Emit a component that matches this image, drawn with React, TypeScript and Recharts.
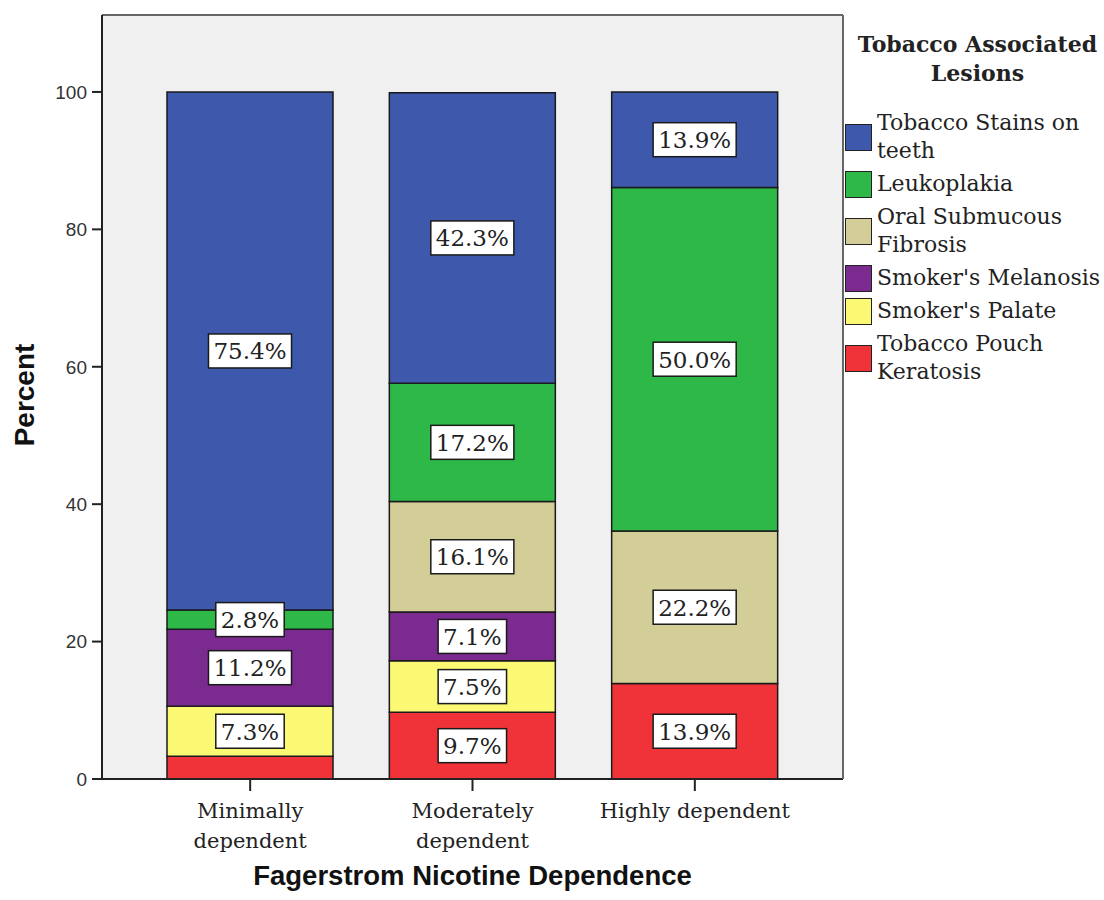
import React from 'react';
import { BarChart, Bar, XAxis, YAxis, CartesianGrid, Legend, LabelList } from 'recharts';

const categories = ['Minimally dependent', 'Moderately dependent', 'Highly dependent'];
const categoryLines = [['Minimally', 'dependent'], ['Moderately', 'dependent'], ['Highly dependent']];

// stacked bottom -> top
const tobaccoPouchKeratosis = [3.3, 9.7, 13.9];
const smokersPalate = [7.3, 7.5, 0];
const smokersMelanosis = [11.2, 7.1, 0];
const oralSubmucousFibrosis = [0, 16.1, 22.2];
const leukoplakia = [2.8, 17.2, 50.0];
const tobaccoStains = [75.4, 42.3, 13.9];

// whether a percentage box is printed on the segment
const pouchLabelShown = [false, true, true];

const yTicks = [0, 20, 40, 60, 80, 100];
const yMax = 111.2;

const legendTitle = ['Tobacco Associated', 'Lesions'];

const series = [
  { key: 'pouch', name: ['Tobacco Pouch', 'Keratosis'], color: '#EF3338', values: tobaccoPouchKeratosis, shown: pouchLabelShown },
  { key: 'palate', name: ["Smoker's Palate"], color: '#FBF873', values: smokersPalate, shown: [true, true, true] },
  { key: 'melanosis', name: ["Smoker's Melanosis"], color: '#7B2A90', values: smokersMelanosis, shown: [true, true, true] },
  { key: 'osmf', name: ['Oral Submucous', 'Fibrosis'], color: '#D3CE97', values: oralSubmucousFibrosis, shown: [true, true, true] },
  { key: 'leuko', name: ['Leukoplakia'], color: '#2EB848', values: leukoplakia, shown: [true, true, true] },
  { key: 'stains', name: ['Tobacco Stains on', 'teeth'], color: '#3E58AC', values: tobaccoStains, shown: [true, true, true] },
];

const data = categories.map((c, i) => {
  const row: any = { category: c };
  series.forEach((s) => { row[s.key] = s.values[i]; });
  return row;
});

const SERIF = '"DejaVu Serif", "Liberation Serif", serif';
const SANS = '"Liberation Sans", Arial, sans-serif';
const LABEL_FS = 23;

const charW = (ch: string) => {
  if (ch === '.') return 0.318;
  if (ch === '%') return 0.95;
  return 0.636;
};

const makeLabel = (values: number[], shown: boolean[]) => (props: any) => {
  const { x, y, width, height, value } = props;
  const v = Number(value);
  if (!v) return null;
  const idx = values.indexOf(v);
  if (idx >= 0 && !shown[idx]) return null;
  const text = v.toFixed(1) + '%';
  const tw = text.split('').reduce((a, ch) => a + charW(ch), 0) * LABEL_FS;
  const bw = tw + 10;
  const bh = 34;
  const cx = x + width / 2;
  const cy = y + height / 2;
  return (
    <g>
      <rect x={cx - bw / 2} y={cy - bh / 2} width={bw} height={bh} fill="#ffffff" stroke="#1a1a1a" strokeWidth={1.5} />
      <text x={cx} y={cy + 8.5} textAnchor="middle" fontFamily={SERIF} fontSize={LABEL_FS} fill="#222">
        {text}
      </text>
    </g>
  );
};

const XTick = (props: any) => {
  const { x, y, payload } = props;
  const idx = categories.indexOf(payload.value);
  const lines = idx >= 0 ? categoryLines[idx] : [payload.value];
  return (
    <g>
      {lines.map((l, i) => (
        <text key={i} x={x} y={y + 25 + i * 30} textAnchor="middle" fontFamily={SERIF} fontSize={21} fill="#222">
          {l}
        </text>
      ))}
    </g>
  );
};

const LegendContent = () => {
  const items = [...series].reverse();
  return (
    <div style={{ fontFamily: SERIF, color: '#222', textAlign: 'left' }}>
      <div style={{ fontWeight: 'bold', fontSize: 22, lineHeight: '29px', textAlign: 'center', paddingLeft: 6, marginBottom: 21, whiteSpace: 'nowrap' }}>
        {legendTitle.map((t, i) => (<div key={i}>{t}</div>))}
      </div>
      {items.map((s) => (
        <div key={s.key} style={{ display: 'flex', alignItems: 'center', marginBottom: 5 }}>
          <div style={{ width: 25, height: 25, background: s.color, border: '1.5px solid #222', flex: 'none', marginRight: 5 }} />
          <div style={{ fontSize: 22, lineHeight: '28px', whiteSpace: 'nowrap' }}>
            {s.name.map((n, i) => (<div key={i}>{n}</div>))}
          </div>
        </div>
      ))}
    </div>
  );
};

export default function App() {
  return (
    <div style={{ position: 'absolute', left: 0, top: 0, width: 1104, height: 900, background: '#fff' }}>
      <BarChart
        width={1104}
        height={900}
        data={data}
        margin={{ top: 14, right: 260, bottom: 0, left: 0 }}
      >
        <CartesianGrid fill="#F0F0F0" horizontal={false} vertical={false} stroke="none" />
        <XAxis
          dataKey="category"
          height={121}
          padding={{ left: 37, right: 37 }}
          axisLine={{ stroke: '#222', strokeWidth: 2 }}
          tickLine={{ stroke: '#222', strokeWidth: 2 }}
          tickSize={12}
          tick={<XTick />}
          interval={0}
          label={{
            content: (p: any) => {
              const vb = p.viewBox;
              return (
                <text x={vb.x + vb.width / 2} y={vb.y + 106} textAnchor="middle" fontFamily={SANS} fontWeight="bold" fontSize={27.5} fill="#111">
                  Fagerstrom Nicotine Dependence
                </text>
              );
            },
          }}
        />
        <XAxis
          xAxisId="top"
          dataKey="category"
          orientation="top"
          height={1}
          tick={false}
          tickLine={false}
          axisLine={{ stroke: '#666', strokeWidth: 2 }}
        />
        <YAxis
          width={102}
          domain={[0, yMax]}
          ticks={yTicks}
          allowDataOverflow
          axisLine={{ stroke: '#222', strokeWidth: 2 }}
          tickLine={{ stroke: '#222', strokeWidth: 2 }}
          tickSize={10}
          tickMargin={5}
          tick={{ fontFamily: SANS, fontSize: 19, fill: '#333' }}
          label={{
            content: (p: any) => {
              const vb = p.viewBox;
              const cx = 24;
              const cy = vb.y + vb.height / 2 - 2;
              return (
                <text x={cx} y={cy} transform={`rotate(-90, ${cx}, ${cy})`} textAnchor="middle" dominantBaseline="central" fontFamily={SANS} fontWeight="bold" fontSize={28} fill="#111">
                  Percent
                </text>
              );
            },
          }}
        />
        <YAxis
          yAxisId="right"
          orientation="right"
          width={1}
          domain={[0, 1]}
          tick={false}
          tickLine={false}
          axisLine={{ stroke: '#666', strokeWidth: 2 }}
        />
        <Legend
          layout="horizontal"
          verticalAlign="middle"
          align="center"
          wrapperStyle={{ left: 845, top: 30, width: 259, height: 'auto' }}
          content={<LegendContent />}
        />
        {series.map((s) => (
          <Bar
            key={s.key}
            dataKey={s.key}
            name={s.name.join(' ')}
            stackId="a"
            fill={s.color}
            stroke="#1a1a1a"
            strokeWidth={1.5}
            barSize={166}
            isAnimationActive={false}
          >
            <LabelList dataKey={s.key} content={makeLabel(s.values, s.shown)} />
          </Bar>
        ))}
      </BarChart>
    </div>
  );
}
